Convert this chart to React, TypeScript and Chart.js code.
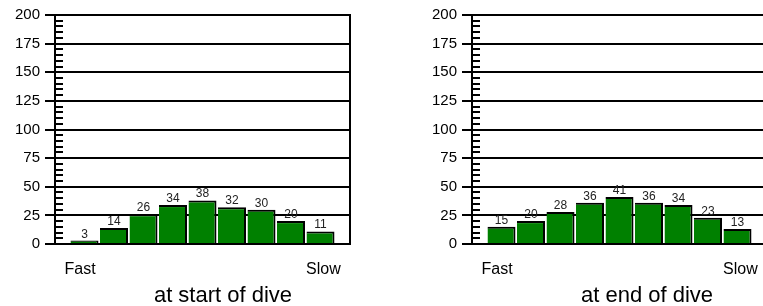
import React, { useEffect, useRef } from "react";
import { Chart, registerables } from "chart.js";

Chart.register(...registerables);

const categories = [1, 2, 3, 4, 5, 6, 7, 8, 9];
const startValues = [3, 14, 26, 34, 38, 32, 30, 20, 11];
const endValues = [15, 20, 28, 36, 41, 36, 34, 23, 13];
const xTickLabels = ["Fast", "Slow"];
const xTickValues = [0.85, 9.1];
const yMin = 0;
const yMax = 200;
const yStep = 25;
const yMinorStep = 5;
const titles = ["at start of dive", "at end of dive"];

const FONT = '"Liberation Sans", Arial, Helvetica, sans-serif';

function BarPanel({ values, title, titleOffset, left }: { values: number[]; title: string; titleOffset: number; left: number }) {
  const ref = useRef<HTMLCanvasElement>(null);
  useEffect(() => {
    if (!ref.current) return;
    const extras = {
      id: "extras",
      afterDatasetsDraw(chart: any) {
        const { ctx, chartArea, scales } = chart;
        const y = scales.y;
        ctx.save();
        ctx.strokeStyle = "#000";
        ctx.lineWidth = 2;
        for (let v = yMin + yMinorStep; v < yMax; v += yMinorStep) {
          if (v % yStep === 0) continue;
          const py = Math.round(y.getPixelForValue(v));
          ctx.beginPath();
          ctx.moveTo(chartArea.left, py);
          ctx.lineTo(chartArea.left + 8, py);
          ctx.stroke();
        }
        ctx.beginPath();
        ctx.moveTo(Math.round(chartArea.right), chartArea.top - 1);
        ctx.lineTo(Math.round(chartArea.right), chartArea.bottom + 1);
        ctx.stroke();

        const meta = chart.getDatasetMeta(0);
        ctx.font = `12px ${FONT}`;
        ctx.fillStyle = "#222";
        ctx.textAlign = "center";
        ctx.textBaseline = "alphabetic";
        meta.data.forEach((el: any, i: number) => {
          ctx.fillText(String(values[i]), el.x, el.y - 3);
        });

        ctx.font = `22px ${FONT}`;
        ctx.fillStyle = "#000";
        ctx.fillText(title, chartArea.left + titleOffset, 302);
        ctx.restore();
      },
    };
    const chart = new Chart(ref.current, {
      type: "bar",
      data: {
        datasets: [
          {
            data: values.map((v, i) => ({ x: categories[i], y: v })) as any,
            backgroundColor: "#008000",
            borderColor: "#000",
            borderWidth: { top: 2, right: 2, bottom: 0, left: 0 } as any,
            borderSkipped: false,
            categoryPercentage: 1,
            barPercentage: 0.95,
          },
        ],
      },
      options: {
        animation: false,
        responsive: false,
        devicePixelRatio: 1,
        layout: { padding: { left: 0, top: 15, right: 31, bottom: 0 } },
        plugins: { legend: { display: false }, tooltip: { enabled: false }, title: { display: false } },
        scales: {
          x: {
            type: "linear",
            min: 0,
            max: 10,
            offset: false,
            bounds: "ticks",
            grid: { display: false, offset: false },
            border: { display: false },
            ticks: {
              autoSkip: false,
              maxRotation: 0,
              minRotation: 0,
              padding: 8,
              color: "#000",
              font: { size: 16, family: FONT },
              callback: (_v: any, i: number) => xTickLabels[i],
            },
            afterBuildTicks: (s: any) => {
              s.ticks = xTickValues.map((v) => ({ value: v }));
            },
            afterFit: (s: any) => {
              s.height = 62;
            },
          },
          y: {
            min: yMin,
            max: yMax,
            ticks: { stepSize: yStep, color: "#000", padding: 5, font: { size: 15, family: FONT } },
            grid: { color: "#000", lineWidth: 2, tickLength: 10 },
            border: { color: "#000", width: 2 },
            afterFit: (s: any) => {
              s.width = 55;
            },
          },
        },
      },
      plugins: [extras],
    } as any);
    return () => chart.destroy();
  }, [values, title, titleOffset]);
  return <canvas ref={ref} width={381} height={306} style={{ position: "absolute", left, top: 0, width: 381, height: 306 }} />;
}

export default function App() {
  return (
    <div style={{ position: "absolute", left: 0, top: 0, width: 763, height: 306, overflow: "hidden", background: "#fff" }}>
      <BarPanel values={startValues} title={titles[0]} titleOffset={168} left={0} />
      <BarPanel values={endValues} title={titles[1]} titleOffset={175} left={417} />
    </div>
  );
}
